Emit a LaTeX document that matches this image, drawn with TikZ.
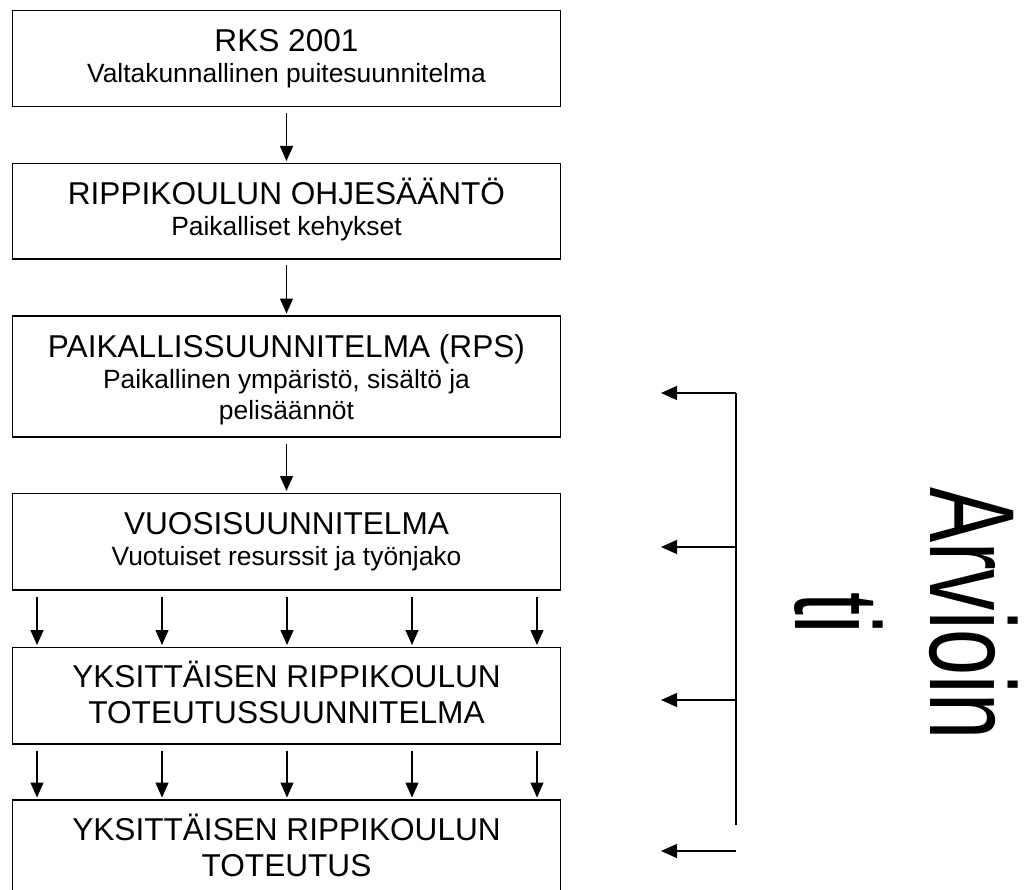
\documentclass[tikz,border=0pt]{standalone}
\usepackage{fontspec}
\setmainfont{Liberation Sans}
\usepackage{graphicx}
\usetikzlibrary{arrows.meta,calc}
\newcommand\ttlfont{\fontsize{31.6}{31}\selectfont}
\newcommand\ttlfontwide{\fontsize{31.6}{36}\selectfont}
\newcommand\subfont{\fontsize{26.4}{31}\selectfont}
\newcommand\topstrut{\rule{0pt}{30pt}}
\newcommand\botstrut[1]{\rule[-#1]{0pt}{#1}}
\begin{document}
\begin{tikzpicture}[x=1pt,y=-1pt,
  box/.style={draw, line width=1.5pt, minimum width=548.4pt, inner sep=0pt, outer sep=0pt, align=center, font=\ttlfont},
  arr/.style={line width=1.3pt, -{Triangle[width=13pt,length=15pt]}, shorten <=6.5pt, shorten >=2.5pt},
  fb/.style={line width=1.5pt},
  fbarr/.style={line width=1.3pt, -{Triangle[width=14pt,length=16pt]}}]
\useasboundingbox (0,0) rectangle (1032,890);
\clip (0,0) rectangle (1032,890);

\node[box, minimum height=96pt] (b1) at (286.5,58.5)
  {\topstrut RKS 2001\\\subfont Valtakunnallinen puitesuunnitelma\botstrut{13pt}};
\node[box, minimum height=95.5pt] (b2) at (286.5,211.25)
  {\topstrut RIPPIKOULUN OHJESÄÄNTÖ\\\subfont Paikalliset kehykset\botstrut{13pt}};
\node[box, minimum height=121pt] (b3) at (286.5,376.5)
  {\topstrut PAIKALLISSUUNNITELMA (RPS)\\\subfont Paikallinen ympäristö, sisältö ja\\\subfont pelisäännöt\botstrut{7pt}};
\node[box, minimum height=96.5pt] (b4) at (286.5,541.75)
  {\topstrut VUOSISUUNNITELMA\\\subfont Vuotuiset resurssit ja työnjako\botstrut{13pt}};
\node[box, minimum height=96.5pt, font=\ttlfontwide] (b5) at (286.5,695.75)
  {\topstrut YKSITTÄISEN RIPPIKOULUN\\TOTEUTUSSUUNNITELMA\botstrut{10pt}};
\node[box, minimum height=96pt, font=\ttlfontwide] (b6) at (286.5,848)
  {\topstrut YKSITTÄISEN RIPPIKOULUN\\TOTEUTUS\botstrut{10pt}};

\draw[arr] (b1) -- (b2);
\draw[arr] (b2) -- (b3);
\draw[arr] (b3) -- (b4);
\foreach \d in {-249.5,-124.5,0.5,125.5,250.5} {
  \draw[arr] ($(b4.south)+(\d,0)$) -- ($(b5.north)+(\d,0)$);
  \draw[arr] ($(b5.south)+(\d,0)$) -- ($(b6.north)+(\d,0)$);
}

\coordinate (fbtop) at (736,393);
\coordinate (fbj2) at (736,547);
\coordinate (fbj3) at (736,700);
\coordinate (fbbot) at (736,825);
\coordinate (fbs4) at (736,851);
\coordinate (t1) at (661,393);
\coordinate (t2) at (661,547);
\coordinate (t3) at (661,700);
\coordinate (t4) at (661,851);
\draw[fb] (fbtop) -- (fbbot);
\draw[fbarr] (fbtop) -- (t1);
\draw[fbarr] (fbj2) -- (t2);
\draw[fbarr] (fbj3) -- (t3);
\draw[fbarr] (fbs4) -- (t4);

\node[rotate=-90, align=center, inner sep=0pt, font=\fontsize{121}{135}\selectfont] (eval) at (905,613.5)
  {\rule{0pt}{90pt}\scalebox{0.684}[1]{Arvioin}\\\scalebox{0.684}[1]{ti}\rule[-5pt]{0pt}{5pt}};
\end{tikzpicture}
\end{document}
